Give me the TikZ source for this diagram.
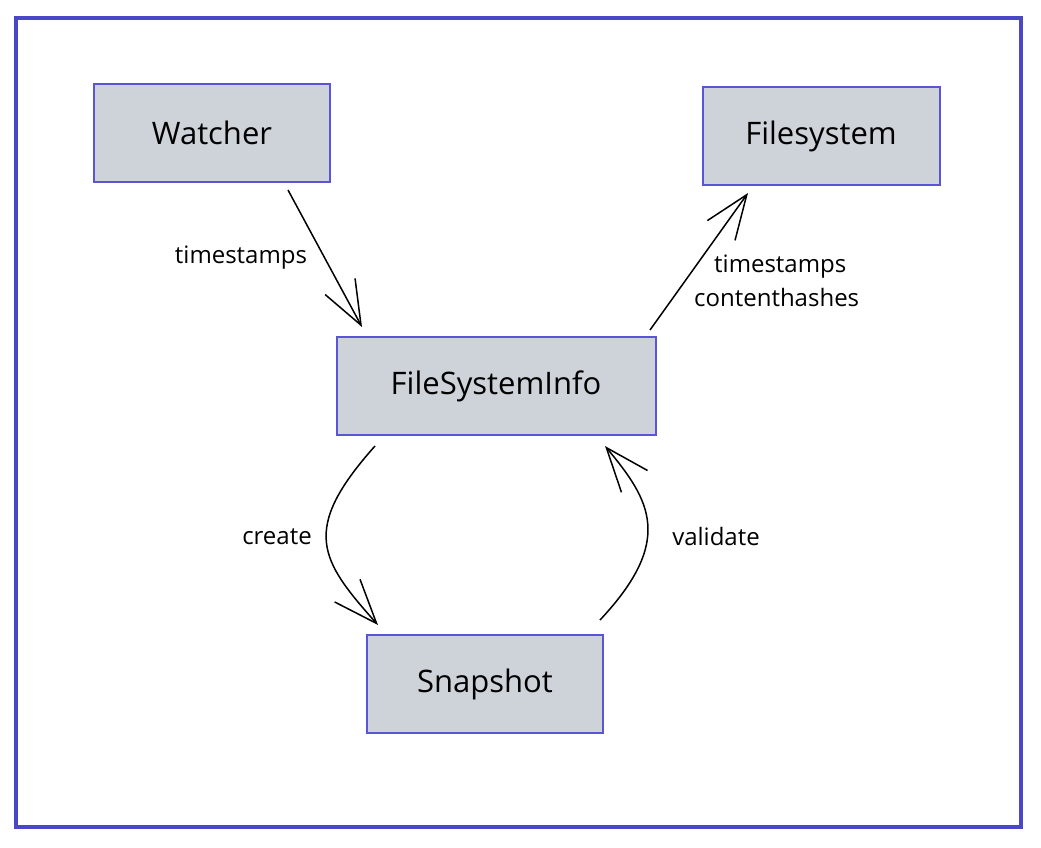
\documentclass[tikz,border=0pt]{standalone}
\usepackage{fontspec}
\setmainfont{Open Sans}
\usetikzlibrary{arrows.meta}
\definecolor{frameblue}{HTML}{4B48C8}
\definecolor{boxblue}{HTML}{5A55D6}
\definecolor{boxfill}{HTML}{CED3DA}
\begin{document}
\begin{tikzpicture}[x=1pt,y=-1pt,
  box/.style={draw=boxblue,line width=2pt,fill=boxfill,minimum width=#1,minimum height=98pt,inner sep=0pt,font=\fontsize{31}{36}\selectfont},
  conn/.style={line width=1.5pt,-{Straight Barb[length=44pt,width=34pt,line width=1.5pt]}},
  lbl/.style={font=\fontsize{24}{28}\selectfont,inner sep=1pt,align=left}]
\useasboundingbox (0,0) rectangle (1041,847);
\fill[white] (0,0) rectangle (1041,847);
\draw[frameblue,line width=4.5pt] (16,18) rectangle (1021,827);
\node[box=236pt] (watcher) at (212,133) {Watcher};
\node[box=237pt] (fs) at (821,136) {Filesystem};
\node[box=319pt] (fsi) at (496,386) {FileSystemInfo};
\node[box=236pt] (snap) at (485,684) {Snapshot};
\coordinate (w1) at (288,190);
\coordinate (w2) at (362,327);
\coordinate (f1) at (650,330);
\coordinate (f2) at (748,193);
\coordinate (c1) at (375,446);
\coordinate (c2) at (378,625);
\coordinate (v1) at (600,620);
\coordinate (v2) at (605,446);
\draw[conn] (w1) -- (w2);
\draw[conn] (f1) -- (f2);
\draw[conn] (c1) .. controls (300,530) and (320,560) .. (c2);
\draw[conn] (v1) .. controls (675,540) and (650,500) .. (v2);
\node[lbl] (lw) at (241,258) {timestamps};
\node[lbl,anchor=west] (lf1) at (713,267) {timestamps};
\node[lbl,anchor=west] (lf2) at (693,297) {contenthashes};
\node[lbl] (lc) at (277,537) {create};
\node[lbl] (lv) at (716,536) {validate};
\end{tikzpicture}
\end{document}
